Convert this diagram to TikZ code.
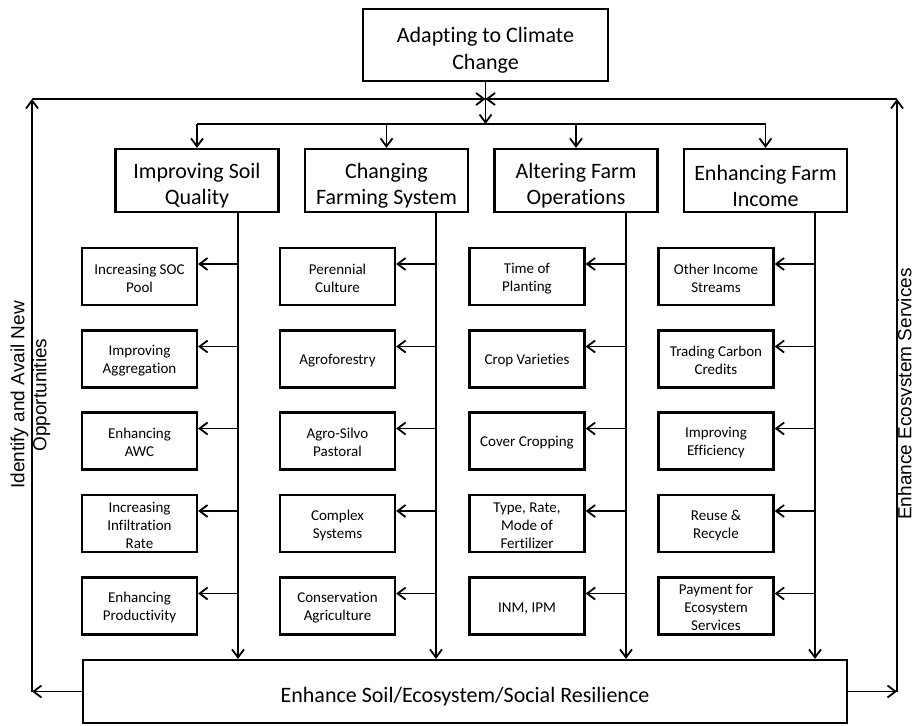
\documentclass[tikz,border=0pt]{standalone}
\usepackage{fontspec}
\setmainfont{Carlito}[Ligatures=NoCommon]
\newfontfamily\arialfont{Liberation Sans}
\usetikzlibrary{arrows.meta}
\newcommand\hdrop{\rule{0pt}{26pt}}
\newcommand\sdrop{\rule{0pt}{14pt}}
\begin{document}
\begin{tikzpicture}[x=1pt,y=-1pt,
  box/.style={draw, line width=2.3pt, inner sep=0pt, align=center},
  catbox/.style={box, minimum width=163pt, minimum height=63pt, font=\fontsize{22}{26}\selectfont},
  subbox/.style={box, minimum width=115pt, minimum height=57pt, font=\fontsize{15}{18}\selectfont},
  conn/.style={line width=1.8pt},
  arr/.style={conn, -{Straight Barb[length=8pt,width=12pt]}},
  side/.style={rotate=90, inner sep=0pt, align=center, font=\arialfont\fontsize{19}{22}\selectfont}]
\useasboundingbox (0,0) rectangle (912,725);

% top box
\node[box, minimum width=245pt, minimum height=72pt, font=\fontsize{22}{27}\selectfont] (top) at (485.5,45) {\hdrop Adapting to Climate\\Change};

% category boxes
\node[catbox] (c1) at (197,180.5) {\hdrop Improving Soil\\Quality};
\node[catbox] (c2) at (386.5,180.5) {\hdrop Changing\\Farming System};
\node[catbox] (c3) at (576,180.5) {\hdrop Altering Farm\\Operations};
\node[catbox] (c4) at (765.5,180.5) {\hdrop Enhancing Farm\\Income};

% column 1
\node[subbox] (s11) at (139.5,276.5) {\sdrop Increasing SOC\\Pool};
\node[subbox] (s12) at (139.5,359) {\sdrop Improving\\Aggregation};
\node[subbox] (s13) at (139.5,441) {\sdrop Enhancing\\AWC};
\node[subbox] (s14) at (139.5,523.5) {\sdrop Increasing\\Infiltration\\Rate};
\node[subbox] (s15) at (139.5,606) {\sdrop Enhancing\\Productivity};
% column 2
\node[subbox] (s21) at (337.5,276.5) {\sdrop Perennial\\Culture};
\node[subbox] (s22) at (337.5,359) {\sdrop Agroforestry};
\node[subbox] (s23) at (337.5,441) {\sdrop Agro-Silvo\\Pastoral};
\node[subbox] (s24) at (337.5,523.5) {\sdrop Complex\\Systems};
\node[subbox] (s25) at (337.5,606) {\sdrop Conservation\\Agriculture};
% column 3
\node[subbox] (s31) at (527,276.5) {\sdrop Time of\\Planting};
\node[subbox] (s32) at (527,359) {\sdrop Crop Varieties};
\node[subbox] (s33) at (527,441) {\sdrop Cover Cropping};
\node[subbox] (s34) at (527,523.5) {\sdrop Type, Rate,\\Mode of\\Fertilizer};
\node[subbox] (s35) at (527,606) {\sdrop INM, IPM};
% column 4
\node[subbox] (s41) at (716,276.5) {\sdrop Other Income\\Streams};
\node[subbox] (s42) at (716,359) {\sdrop Trading Carbon\\Credits};
\node[subbox] (s43) at (716,441) {\sdrop Improving\\Efficiency};
\node[subbox] (s44) at (716,523.5) {\sdrop Reuse \&\\Recycle};
\node[subbox] (s45) at (716,606) {\sdrop Payment for\\Ecosystem\\Services};

% bottom box
\node[box, minimum width=764pt, minimum height=63pt, font=\fontsize{22}{26}\selectfont] (res) at (465,691.5) {\rule{0pt}{25pt}Enhance Soil/Ecosystem/Social Resilience};

% side labels
\node[side] (lab1) at (30.5,395) {Identify and Avail New\\Opportunities};
\node[side] (lab2) at (906.4,394) {Enhance Ecosystem Services};

% helper coordinates
\coordinate (hl) at (0,99);
\coordinate (dl) at (0,124);
\coordinate (L) at (32,691.5);
\coordinate (R) at (897,691.5);
\coordinate (LT) at (32,99);
\coordinate (RT) at (897,99);
\coordinate (k1) at (238,0);
\coordinate (k2) at (436,0);
\coordinate (k3) at (626,0);
\coordinate (k4) at (815,0);

% top distribution
\draw[arr] (top.south) -- (top.south |- dl);
\draw[conn] (c1.north |- dl) -- (c4.north |- dl);
\foreach \i in {1,...,4} {\draw[arr] (c\i.north |- dl) -- (c\i.north);}

% trunks and sub arrows
\foreach \c in {1,...,4} {
  \draw[arr] (k\c |- c\c.south) -- (k\c |- res.north);
  \foreach \r in {1,...,5} {
    \coordinate (a\c\r) at ([yshift=12.5pt]s\c\r.east);
    \draw[arr] (k\c |- a\c\r) -- (a\c\r);
  }
}

% feedback loops
\draw[arr] (res.west) -- (L);
\draw[arr] (L) -- (LT);
\draw[arr] (LT) -- (top.south |- hl);
\draw[arr] (res.east) -- (R);
\draw[arr] (R) -- (RT);
\draw[arr] (RT) -- (top.south |- hl);
\end{tikzpicture}
\end{document}
